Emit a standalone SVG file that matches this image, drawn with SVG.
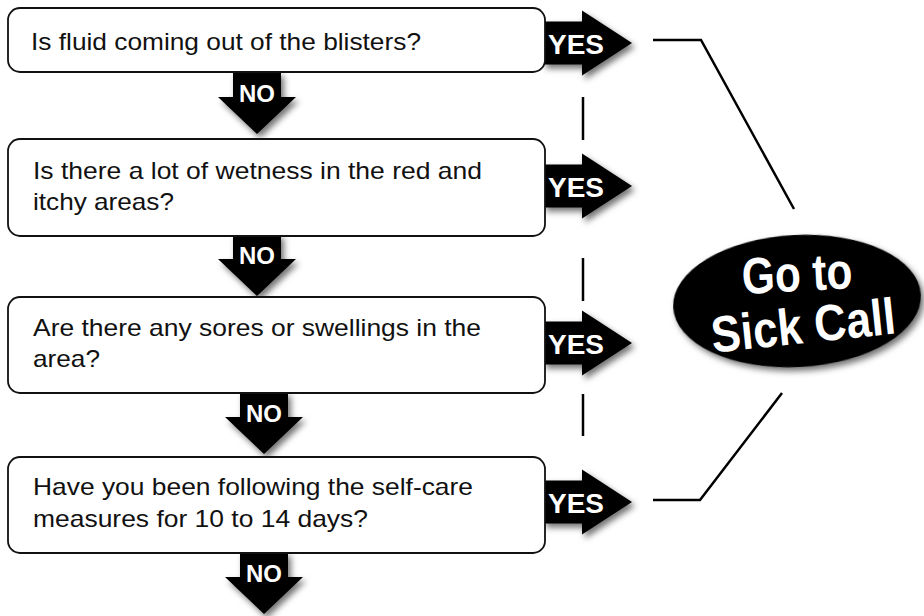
<svg xmlns="http://www.w3.org/2000/svg" width="924" height="616" viewBox="0 0 924 616">
<defs>
<filter id="sh" x="-20%" y="-20%" width="150%" height="160%">
<feDropShadow dx="3" dy="4" stdDeviation="3" flood-color="#000" flood-opacity="0.55"/>
</filter>
<path id="yes" d="M0,-21.5 H39 V-32.5 L89,0 L39,32.5 V21.5 H0 Z"/>
<path id="no" d="M-24,0 H24 V25 H39 L0,62 L-39,25 H-24 Z"/>
</defs>
<style>
.box{fill:#fff;stroke:#111;stroke-width:1.8}
.q{font-family:"Liberation Sans",Arial,sans-serif;font-size:24px;fill:#111}
.lbl{font-family:"Liberation Sans",Arial,sans-serif;font-weight:bold;fill:#fff}
.arr{fill:#000;filter:url(#sh)}
.ln{stroke:#000;stroke-width:2.5;fill:none}
</style>
<rect width="924" height="616" fill="#fff"/>
<g id="connectors">
<polyline class="ln" points="653,40 701,40 794,209"/>
<polyline class="ln" points="653,500 700,500 782,393"/>
<line class="ln" x1="583" y1="97" x2="583" y2="140"/>
<line class="ln" x1="583" y1="258" x2="583" y2="301"/>
<line class="ln" x1="583" y1="394" x2="583" y2="436"/>
<g id="yes1"><use href="#yes" class="arr" x="543" y="43"/><text class="lbl" x="548" y="54" font-size="28">YES</text></g>
<g id="yes2"><use href="#yes" class="arr" x="543" y="186"/><text class="lbl" x="548" y="197" font-size="28">YES</text></g>
<g id="yes3"><use href="#yes" class="arr" x="543" y="343"/><text class="lbl" x="548" y="354" font-size="28">YES</text></g>
<g id="yes4"><use href="#yes" class="arr" x="543" y="502"/><text class="lbl" x="548" y="513" font-size="28">YES</text></g>
<g id="no1"><use href="#no" class="arr" x="257" y="72"/><text class="lbl" x="257" y="102" font-size="24" text-anchor="middle">NO</text></g>
<g id="no2"><use href="#no" class="arr" x="257" y="234"/><text class="lbl" x="257" y="264" font-size="24" text-anchor="middle">NO</text></g>
<g id="no3"><use href="#no" class="arr" x="264" y="392"/><text class="lbl" x="264" y="422" font-size="24" text-anchor="middle">NO</text></g>
<g id="no4"><use href="#no" class="arr" x="264" y="552"/><text class="lbl" x="264" y="582" font-size="24" text-anchor="middle">NO</text></g>
</g>
<g id="q1">
<rect class="box" x="8" y="8" width="537" height="64" rx="12"/>
<text class="q" x="31" y="50" textLength="390" lengthAdjust="spacingAndGlyphs">Is fluid coming out of the blisters?</text>
</g>
<g id="q2">
<rect class="box" x="8" y="139" width="537" height="97" rx="12"/>
<text class="q" x="33" y="179" textLength="449" lengthAdjust="spacingAndGlyphs">Is there a lot of wetness in the red and</text>
<text class="q" x="33" y="210" textLength="141" lengthAdjust="spacingAndGlyphs">itchy areas?</text>
</g>
<g id="q3">
<rect class="box" x="8" y="297" width="537" height="96" rx="12"/>
<text class="q" x="33" y="336" textLength="448" lengthAdjust="spacingAndGlyphs">Are there any sores or swellings in the</text>
<text class="q" x="33" y="367" textLength="67" lengthAdjust="spacingAndGlyphs">area?</text>
</g>
<g id="q4">
<rect class="box" x="8" y="457" width="537" height="96" rx="12"/>
<text class="q" x="33" y="495" textLength="440" lengthAdjust="spacingAndGlyphs">Have you been following the self-care</text>
<text class="q" x="33" y="527" textLength="335" lengthAdjust="spacingAndGlyphs">measures for 10 to 14 days?</text>
</g>
<g id="sickcall">
<ellipse cx="797" cy="301" rx="124" ry="66" transform="rotate(-3 797 301)" fill="#000" filter="url(#sh)"/>
<text class="lbl" font-size="51" text-anchor="middle" transform="translate(798,291) rotate(-3) scale(0.83,1)">Go to</text>
<text class="lbl" font-size="51" text-anchor="middle" transform="translate(805,343) rotate(-6) scale(0.87,1)">Sick Call</text>
</g>
</svg>
